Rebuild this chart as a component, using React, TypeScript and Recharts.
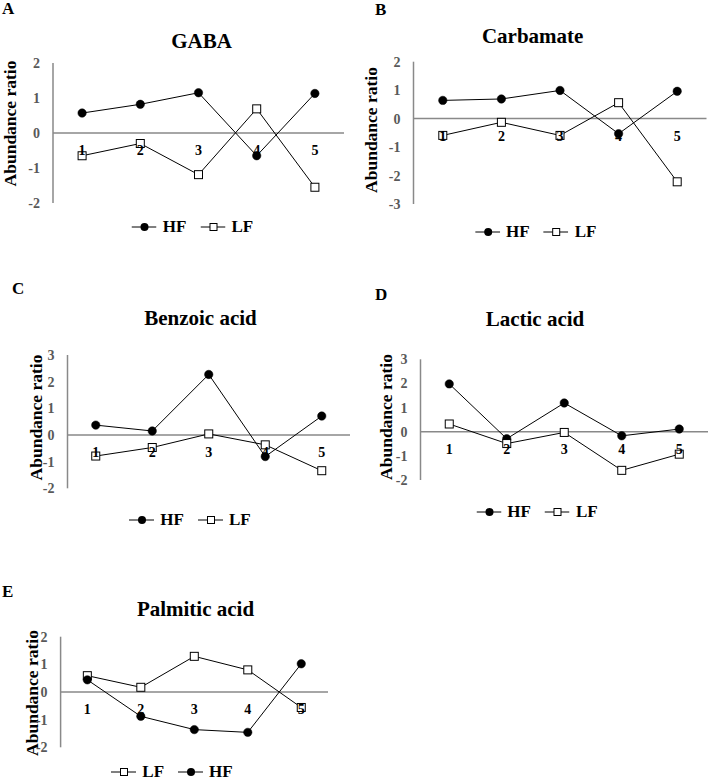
import React from 'react';
import { LineChart, Line, XAxis, YAxis, ReferenceLine, ReferenceDot, Legend } from 'recharts';

const FONT = '"Liberation Serif", "Times New Roman", serif';
const AXIS_GREY = '#898989';
const TICK_GREY = '#595959';

// sample numbers along the x axis
const CATEGORIES = ['1', '2', '3', '4', '5'];

const TICKS_2_2 = [-2, -1, 0, 1, 2];
const TICKS_3_2 = [-3, -2, -1, 0, 1, 2];
const TICKS_2_3 = [-2, -1, 0, 1, 2, 3];

const GABA_HF = [0.57, 0.82, 1.15, -0.65, 1.13];
const GABA_LF = [-0.65, -0.3, -1.19, 0.69, -1.55];

const CARBAMATE_HF = [0.64, 0.69, 0.99, -0.53, 0.96];
const CARBAMATE_LF = [-0.59, -0.13, -0.59, 0.56, -2.22];

const BENZOIC_HF = [0.37, 0.15, 2.27, -0.81, 0.71];
const BENZOIC_LF = [-0.79, -0.47, 0.04, -0.37, -1.34];

const LACTIC_HF = [1.98, -0.29, 1.19, -0.17, 0.11];
const LACTIC_LF = [0.32, -0.49, -0.03, -1.6, -0.93];

const PALMITIC_LF = [0.59, 0.17, 1.29, 0.8, -0.56];
const PALMITIC_HF = [0.44, -0.88, -1.36, -1.46, 1.02];

// layout of each panel (local coordinates inside its box)
const PANELS = [
  {
    letter: 'A', title: 'GABA', hf: GABA_HF, lf: GABA_LF, order: ['HF', 'LF'],
    domain: [-2, 2], ticks: TICKS_2_2,
    box: { left: 0, top: 0, width: 354, height: 245 },
    margin: { top: 63, right: 10, bottom: 42 }, axisWidth: 53,
    yLabel: { x: 16, y: 123.5 }, titleAt: { x: 201.5, y: 48 }, letterAt: { x: 2, y: 14 },
    legendAt: { x: 192.5, y: 217 },
  },
  {
    letter: 'B', title: 'Carbamate', hf: CARBAMATE_HF, lf: CARBAMATE_LF, order: ['HF', 'LF'],
    domain: [-3, 2], ticks: TICKS_3_2,
    box: { left: 354, top: 0, width: 355, height: 245 },
    margin: { top: 61.7, right: 2.5, bottom: 41 }, axisWidth: 59.5,
    yLabel: { x: 22.7, y: 130 }, titleAt: { x: 178.7, y: 42.7 }, letterAt: { x: 21, y: 15 },
    legendAt: { x: 181.7, y: 221.7 },
  },
  {
    letter: 'C', title: 'Benzoic acid', hf: BENZOIC_HF, lf: BENZOIC_LF, order: ['HF', 'LF'],
    domain: [-2, 3], ticks: TICKS_2_3,
    box: { left: 0, top: 260, width: 354, height: 275 },
    margin: { top: 95, right: 4, bottom: 46.7 }, axisWidth: 67.5,
    yLabel: { x: 41.7, y: 157.5 }, titleAt: { x: 200.5, y: 65 }, letterAt: { x: 12, y: 34 },
    legendAt: { x: 190, y: 250 },
  },
  {
    letter: 'D', title: 'Lactic acid', hf: LACTIC_HF, lf: LACTIC_LF, order: ['HF', 'LF'],
    domain: [-2, 3], ticks: TICKS_2_3,
    box: { left: 354, top: 260, width: 355, height: 275 },
    margin: { top: 99.3, right: 1, bottom: 55 }, axisWidth: 66.5,
    yLabel: { x: 37.7, y: 157 }, titleAt: { x: 181, y: 66 }, letterAt: { x: 21, y: 40 },
    legendAt: { x: 183, y: 242 },
  },
  {
    letter: 'E', title: 'Palmitic acid', hf: PALMITIC_HF, lf: PALMITIC_LF, order: ['LF', 'HF'],
    domain: [-2, 2], ticks: TICKS_2_2,
    box: { left: 0, top: 560, width: 354, height: 220 },
    margin: { top: 76.7, right: 26, bottom: 32.7 }, axisWidth: 60.6,
    yLabel: { x: 37.5, y: 133 }, titleAt: { x: 195.5, y: 56 }, letterAt: { x: 2, y: 37 },
    legendAt: { x: 172, y: 201.7 },
  },
];

const circleDot = (p: any) => (
  <circle key={`hf-${p.index}`} cx={p.cx} cy={p.cy} r={4.2} fill="#000" stroke="#000" strokeWidth={0.5} />
);
const squareDot = (p: any) => (
  <rect key={`lf-${p.index}`} x={p.cx - 4} y={p.cy - 4} width={8} height={8} fill="#fff" stroke="#000" strokeWidth={1} />
);

const makeLegend = (shift: number, order: string[]) => (props: any) => {
  // keep the series order of the original figure (recharts sorts by name)
  const items = [...(props.payload || [])].sort((a: any, b: any) => order.indexOf(a.value) - order.indexOf(b.value));
  return (
    <div
      style={{
        display: 'flex', justifyContent: 'center', alignItems: 'center',
        transform: `translateX(${shift}px)`,
        fontFamily: FONT, fontWeight: 'bold', fontSize: 17, lineHeight: '20px', color: '#000',
      }}
    >
      {items.map((e: any, i: number) => (
        <div key={e.value} style={{ display: 'flex', alignItems: 'center', marginLeft: i ? 14 : 0 }}>
          <svg width={25} height={12}>
            <line x1={0} y1={6} x2={25} y2={6} stroke="#000" strokeWidth={1} />
            {e.value === 'HF' ? (
              <circle cx={13} cy={6} r={4} fill="#000" />
            ) : (
              <rect x={9.5} y={2.5} width={7} height={7} fill="#fff" stroke="#000" strokeWidth={1} />
            )}
          </svg>
          <span style={{ marginLeft: 6 }}>{e.value}</span>
        </div>
      ))}
    </div>
  );
};

const Panel = ({ cfg }: { cfg: any }) => {
  const { box, margin, axisWidth } = cfg;
  const data = CATEGORIES.map((c, i) => ({ cat: c, HF: cfg.hf[i], LF: cfg.lf[i] }));
  const plotWidth = box.width - axisWidth - margin.right;
  const half = plotWidth / CATEGORIES.length / 2;

  const series = cfg.order.map((key: string) => (
    <Line
      key={key}
      dataKey={key}
      name={key}
      stroke="#000"
      strokeWidth={1}
      dot={key === 'HF' ? circleDot : squareDot}
      activeDot={false}
      isAnimationActive={false}
    />
  ));

  return (
    <div style={{ position: 'absolute', left: box.left, top: box.top, width: box.width, height: box.height }}>
      <LineChart
        width={box.width}
        height={box.height}
        data={data}
        margin={{ top: margin.top, right: margin.right, bottom: margin.bottom, left: 0 }}
      >
        <XAxis dataKey="cat" type="category" hide padding={{ left: half, right: half }} />
        <YAxis
          type="number"
          domain={cfg.domain}
          ticks={cfg.ticks}
          interval={0}
          width={axisWidth}
          axisLine={{ stroke: AXIS_GREY, strokeWidth: 1.5 }}
          tickLine={false}
          tickSize={6}
          tickMargin={7}
          tick={{ fill: TICK_GREY, fontSize: 14, fontWeight: 'bold', fontFamily: FONT }}
          label={() => (
            <text
              x={cfg.yLabel.x}
              y={cfg.yLabel.y}
              transform={`rotate(-90 ${cfg.yLabel.x} ${cfg.yLabel.y})`}
              textAnchor="middle"
              fontFamily={FONT}
              fontWeight="bold"
              fontSize={17.5}
              fill="#000"
            >
              Abundance ratio
            </text>
          )}
        />
        <ReferenceLine y={0} stroke={AXIS_GREY} strokeWidth={1.5} />
        {CATEGORIES.map((c) => (
          <ReferenceDot
            key={c}
            x={c}
            y={0}
            r={0}
            fill="none"
            stroke="none"
            label={{ value: c, position: 'bottom', offset: 12, fill: '#000', fontSize: 14, fontWeight: 'bold', fontFamily: FONT }}
          />
        ))}
        {series}
        <Legend
          layout="vertical"
          align="center"
          verticalAlign="middle"
          wrapperStyle={{ left: 0, top: cfg.legendAt.y, width: box.width, height: 20 }}
          content={makeLegend(cfg.legendAt.x - box.width / 2, cfg.order)}
        />
      </LineChart>
      <svg
        width={box.width}
        height={box.height}
        style={{ position: 'absolute', left: 0, top: 0, pointerEvents: 'none' }}
      >
        <text x={cfg.letterAt.x} y={cfg.letterAt.y} fontFamily={FONT} fontWeight="bold" fontSize={17} fill="#000">
          {cfg.letter}
        </text>
        <text x={cfg.titleAt.x} y={cfg.titleAt.y} textAnchor="middle" fontFamily={FONT} fontWeight="bold" fontSize={21} fill="#000">
          {cfg.title}
        </text>
      </svg>
    </div>
  );
};

export default function App() {
  return (
    <div style={{ position: 'absolute', left: 0, top: 0, width: 709, height: 780, background: '#fff' }}>
      {PANELS.map((p) => (
        <Panel key={p.letter} cfg={p} />
      ))}
    </div>
  );
}
